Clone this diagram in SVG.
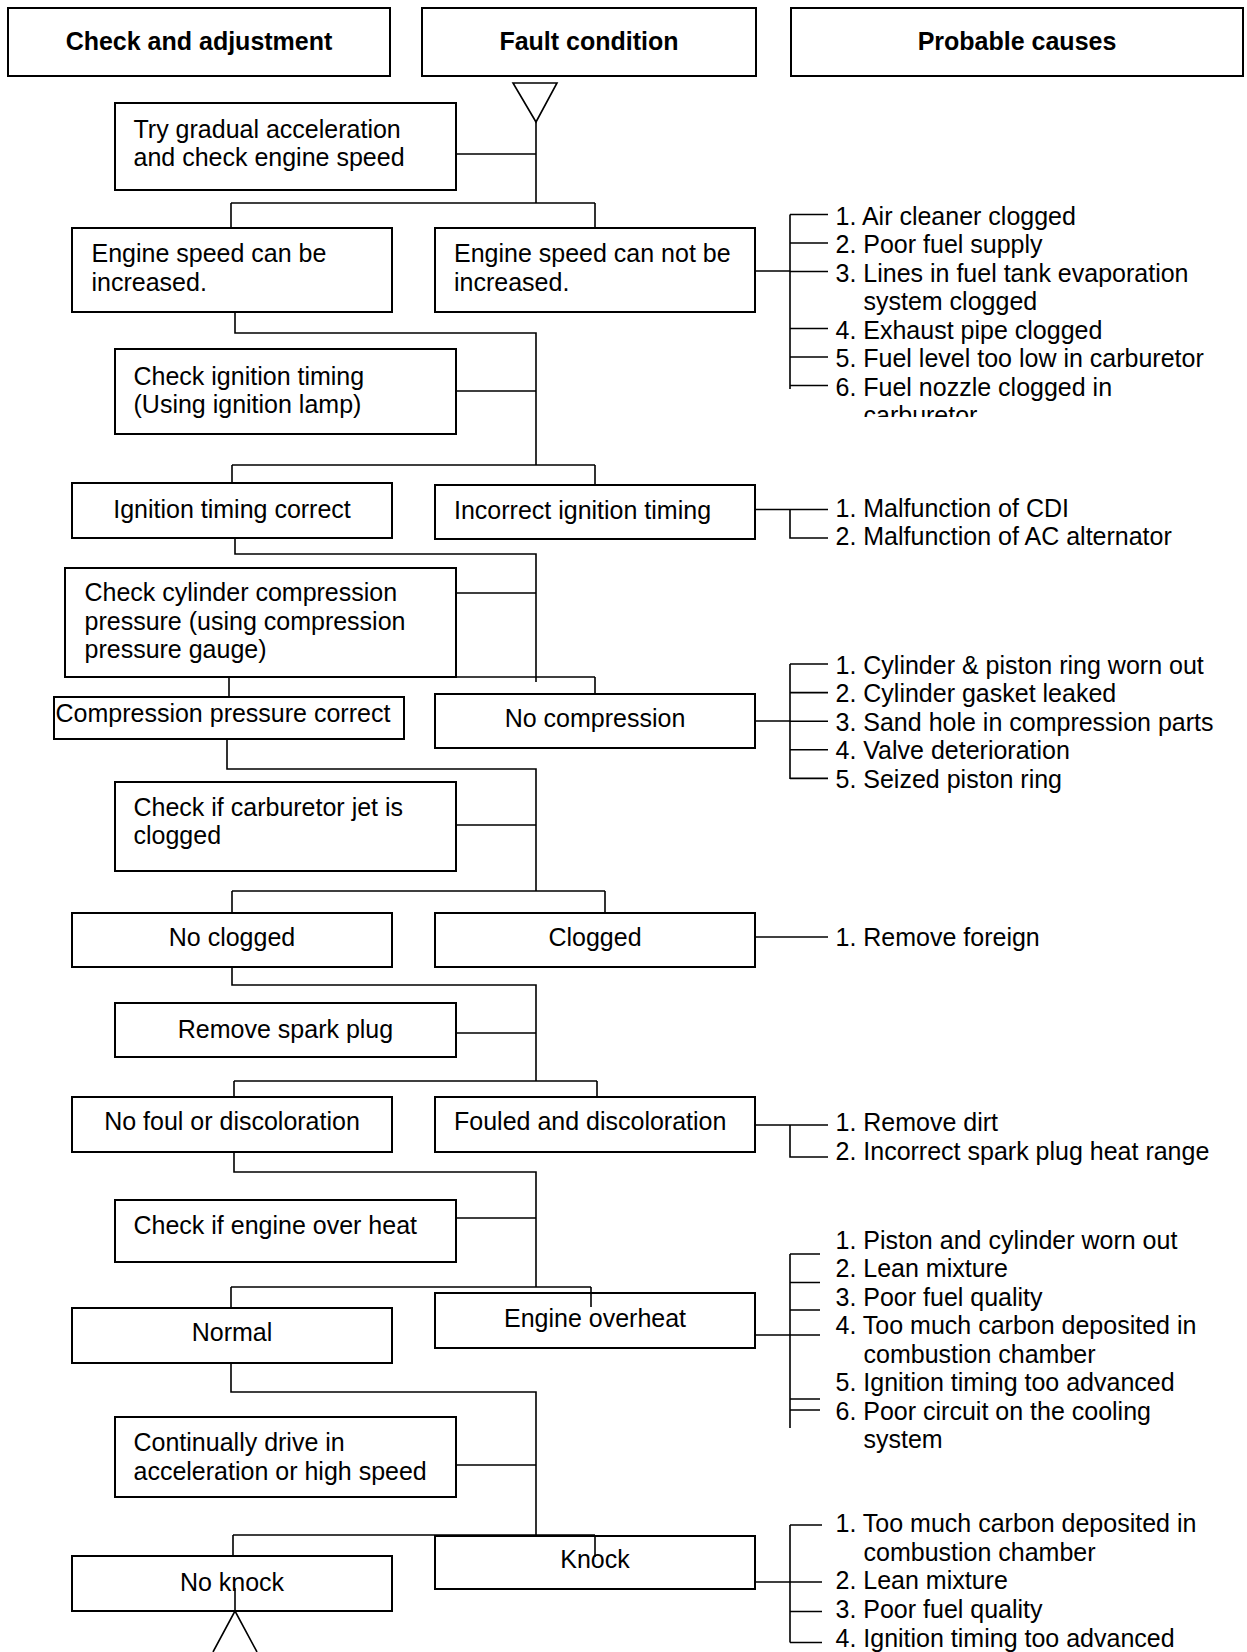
<svg xmlns="http://www.w3.org/2000/svg" width="1247" height="1652" viewBox="0 0 1247 1652">
<style>
.box{fill:#fff;stroke:#000;stroke-width:2}
.ln{stroke:#000;stroke-width:1.6;fill:none}
.t{font-family:"Liberation Sans",Arial,sans-serif;font-size:25px;fill:#000}
.b{font-weight:bold}
.m{text-anchor:middle}
</style>
<defs>
<clipPath id="clipA"><rect x="780" y="190" width="460" height="227"/></clipPath>
</defs>
<rect width="1247" height="1652" fill="#fff"/>

<g id="connectors" class="ln">
<polygon points="513,83 557,83 536,122" fill="#fff"/>
<path d="M536,122V203 M456,154H536 M231,203H595 M231,203V228 M595,203V228"/>
<path d="M235,312V333H536V465 M456,391H536 M232,465H595 M232,465V483 M595,465V485"/>
<path d="M235,538V554H536V682 M456,593H536 M229,677H595 M229,677V697 M595,677V694"/>
<path d="M227,739V769H536V891 M456,825H536 M232,891H605 M232,891V913 M605,891V913"/>
<path d="M232,967V985H536V1081 M456,1033H536 M234,1081H597 M234,1081V1097 M597,1081V1097"/>
<path d="M234,1152V1172H536V1287 M456,1218H536 M231,1287H591 M231,1287V1308 M591,1287V1307"/>
<path d="M231,1363V1392H536V1535 M456,1465H536 M233,1535H595 M233,1535V1556 M595,1535V1557"/>
<path d="M235,1588V1611 M213,1652L235,1611L257,1652"/>
<path d="M755,271H790 M790,214.5V389 M790,214.5H828 M790,243H828 M790,271.5H828 M790,328.5H828 M790,357H828 M790,385.5H828"/>
<path d="M755,509.5H828 M790,509.5V538H828"/>
<path d="M755,721H790 M790,664V779 M790,664H828 M790,692.6H828 M790,721.2H828 M790,749.8H828 M790,778.4H828"/>
<path d="M755,937H828"/>
<path d="M755,1125H828 M790,1125V1157H828"/>
<path d="M755,1335H820 M790,1254V1428 M790,1254H820 M790,1282.5H820 M790,1310H820 M790,1399H820 M790,1410H820"/>
<path d="M755,1582H822 M790,1525V1642.5 M790,1525H822 M790,1611.5H822 M790,1642.5H822"/>
</g>

<g id="hdr1"><rect class="box" x="8" y="8" width="382" height="68"/><text class="t b m" x="199" y="50">Check and adjustment</text></g>
<g id="hdr2"><rect class="box" x="422" y="8" width="334" height="68"/><text class="t b m" x="589" y="50">Fault condition</text></g>
<g id="hdr3"><rect class="box" x="791" y="8" width="452" height="68"/><text class="t b m" x="1017" y="50">Probable causes</text></g>

<g id="c1"><rect class="box" x="115" y="103" width="341" height="87"/><text class="t" x="133.5" y="137.5">Try gradual acceleration</text><text class="t" x="133.5" y="165.5">and check engine speed</text></g>
<g id="l1"><rect class="box" x="72" y="228" width="320" height="84"/><text class="t" x="91.5" y="262">Engine speed can be</text><text class="t" x="91.5" y="290.5">increased.</text></g>
<g id="r1"><rect class="box" x="435" y="228" width="320" height="84"/><text class="t" x="454" y="262">Engine speed can not be</text><text class="t" x="454" y="290.5">increased.</text></g>

<g id="c2"><rect class="box" x="115" y="349" width="341" height="85"/><text class="t" x="133.5" y="384.5">Check ignition timing</text><text class="t" x="133.5" y="413">(Using ignition lamp)</text></g>
<g id="l2"><rect class="box" x="72" y="483" width="320" height="55"/><text class="t m" x="232" y="517.5">Ignition timing correct</text></g>
<g id="r2"><rect class="box" x="435" y="485" width="320" height="54"/><text class="t" x="454" y="519">Incorrect ignition timing</text></g>

<g id="c3"><rect class="box" x="65" y="568" width="391" height="109"/><text class="t" x="84.5" y="601">Check cylinder compression</text><text class="t" x="84.5" y="629.5">pressure (using compression</text><text class="t" x="84.5" y="658">pressure gauge)</text></g>
<g id="l3"><rect class="box" x="54" y="697" width="350" height="42"/><text class="t" x="55.5" y="721.5">Compression pressure correct</text></g>
<g id="r3"><rect class="box" x="435" y="694" width="320" height="54"/><text class="t m" x="595" y="727">No compression</text></g>

<g id="c4"><rect class="box" x="115" y="782" width="341" height="89"/><text class="t" x="133.5" y="815.5">Check if carburetor jet is</text><text class="t" x="133.5" y="844">clogged</text></g>
<g id="l4"><rect class="box" x="72" y="913" width="320" height="54"/><text class="t m" x="232" y="946">No clogged</text></g>
<g id="r4"><rect class="box" x="435" y="913" width="320" height="54"/><text class="t m" x="595" y="946">Clogged</text></g>

<g id="c5"><rect class="box" x="115" y="1003" width="341" height="54"/><text class="t m" x="285.5" y="1037.5">Remove spark plug</text></g>
<g id="l5"><rect class="box" x="72" y="1097" width="320" height="55"/><text class="t m" x="232" y="1130">No foul or discoloration</text></g>
<g id="r5"><rect class="box" x="435" y="1097" width="320" height="55"/><text class="t" x="454" y="1130">Fouled and discoloration</text></g>

<g id="c6"><rect class="box" x="115" y="1200" width="341" height="62"/><text class="t" x="133.5" y="1233.5">Check if engine over heat</text></g>
<g id="l6"><rect class="box" x="72" y="1308" width="320" height="55"/><text class="t m" x="232" y="1340.5">Normal</text></g>
<g id="r6"><rect class="box" x="435" y="1293" width="320" height="55"/><text class="t m" x="595" y="1327">Engine overheat</text></g>
<path d="M591,1293V1307" class="ln"/>

<g id="c7"><rect class="box" x="115" y="1417" width="341" height="80"/><text class="t" x="133.5" y="1451">Continually drive in</text><text class="t" x="133.5" y="1480">acceleration or high speed</text></g>
<g id="l7"><rect class="box" x="72" y="1556" width="320" height="55"/><text class="t m" x="232" y="1590.5">No knock</text></g>
<g id="r7"><rect class="box" x="435" y="1536" width="320" height="53"/><text class="t m" x="595" y="1568">Knock</text></g>
<path d="M595,1536V1557 M235,1588V1611" class="ln"/>

<g id="causesA" clip-path="url(#clipA)">
<text class="t" x="835.5" y="224.5">1. Air cleaner clogged</text>
<text class="t" x="835.5" y="253">2. Poor fuel supply</text>
<text class="t" x="835.5" y="281.5">3. Lines in fuel tank evaporation</text>
<text class="t" x="863.5" y="310">system clogged</text>
<text class="t" x="835.5" y="338.5">4. Exhaust pipe clogged</text>
<text class="t" x="835.5" y="367">5. Fuel level too low in carburetor</text>
<text class="t" x="835.5" y="395.5">6. Fuel nozzle clogged in</text>
<text class="t" x="863.5" y="424">carburetor</text>
</g>
<g id="causesB">
<text class="t" x="835.5" y="516.5">1. Malfunction of CDI</text>
<text class="t" x="835.5" y="545">2. Malfunction of AC alternator</text>
</g>
<g id="causesC">
<text class="t" x="835.5" y="673.5">1. Cylinder &amp; piston ring worn out</text>
<text class="t" x="835.5" y="702">2. Cylinder gasket leaked</text>
<text class="t" x="835.5" y="730.5">3. Sand hole in compression parts</text>
<text class="t" x="835.5" y="759">4. Valve deterioration</text>
<text class="t" x="835.5" y="787.5">5. Seized piston ring</text>
</g>
<g id="causesD"><text class="t" x="835.5" y="945.5">1. Remove foreign</text></g>
<g id="causesE">
<text class="t" x="835.5" y="1131">1. Remove dirt</text>
<text class="t" x="835.5" y="1159.5">2. Incorrect spark plug heat range</text>
</g>
<g id="causesF">
<text class="t" x="835.5" y="1248.5">1. Piston and cylinder worn out</text>
<text class="t" x="835.5" y="1277">2. Lean mixture</text>
<text class="t" x="835.5" y="1305.5">3. Poor fuel quality</text>
<text class="t" x="835.5" y="1334">4. Too much carbon deposited in</text>
<text class="t" x="863.5" y="1362.5">combustion chamber</text>
<text class="t" x="835.5" y="1391">5. Ignition timing too advanced</text>
<text class="t" x="835.5" y="1419.5">6. Poor circuit on the cooling</text>
<text class="t" x="863.5" y="1448">system</text>
</g>
<g id="causesG">
<text class="t" x="835.5" y="1532">1. Too much carbon deposited in</text>
<text class="t" x="863.5" y="1560.5">combustion chamber</text>
<text class="t" x="835.5" y="1589">2. Lean mixture</text>
<text class="t" x="835.5" y="1618">3. Poor fuel quality</text>
<text class="t" x="835.5" y="1647">4. Ignition timing too advanced</text>
</g>
</svg>
